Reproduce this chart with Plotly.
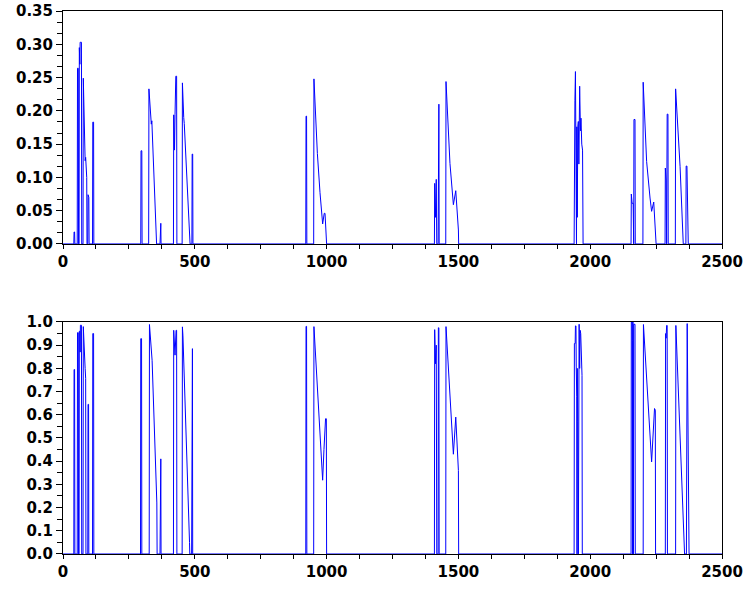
import plotly.graph_objects as go
from plotly.subplots import make_subplots

# upper trace: breakpoints (sample index, value)
top_x = [0, 41, 42, 44, 45, 54, 55, 58, 59, 61, 62, 64, 65, 70, 71,
         76, 77, 80, 84, 86, 90, 91, 94, 95, 98, 99, 112, 113, 116, 117,
         295, 296, 299, 300, 325, 326, 333, 335, 337, 355,
         368, 369, 371, 372, 419, 420, 423, 425, 428, 431, 432,
         452, 453, 458, 460, 482, 489, 490, 492, 493,
         921, 922, 924, 925, 951, 952, 965, 975, 985, 991, 994, 1000,
         1409, 1410, 1413, 1416, 1418, 1423, 1424, 1426, 1427,
         1452, 1453, 1468, 1481, 1490, 1500, 1501,
         1939, 1940, 1942, 1944, 1946, 1948, 1949, 1951, 1953, 1955, 1957,
         1960, 1963, 1965, 1968, 1971, 1973,
         2155, 2156, 2159, 2163, 2165, 2166, 2170, 2171,
         2200, 2201, 2214, 2227, 2233, 2241, 2250,
         2284, 2285, 2288, 2290, 2292, 2295, 2296,
         2323, 2324, 2341, 2353, 2363, 2364, 2367, 2372, 2500]
top_y = [0, 0, 0.018, 0.018, 0, 0, 0.264, 0.264, 0, 0, 0.295, 0.27, 0.303, 0.303, 0,
         0, 0.249, 0.19, 0.125, 0.13, 0.10, 0, 0, 0.074, 0.07, 0, 0, 0.183, 0.183, 0,
         0, 0.140, 0.140, 0, 0, 0.233, 0.19, 0.18, 0.185, 0,
         0, 0.031, 0.031, 0, 0, 0.194, 0.141, 0.194, 0.252, 0.252, 0,
         0, 0.242, 0.19, 0.181, 0, 0, 0.135, 0.135, 0,
         0, 0.192, 0.192, 0, 0, 0.248, 0.136, 0.077, 0.030, 0.046, 0.046, 0,
         0, 0.091, 0.04, 0.097, 0, 0, 0.210, 0.210, 0,
         0, 0.244, 0.121, 0.059, 0.080, 0.021, 0,
         0, 0.216, 0.216, 0.259, 0.10, 0, 0.176, 0.04, 0.176, 0.184, 0.12,
         0.237, 0.17, 0.189, 0.15, 0.141, 0,
         0, 0.075, 0.061, 0.061, 0, 0.187, 0.187, 0,
         0, 0.243, 0.124, 0.069, 0.049, 0.063, 0,
         0, 0.114, 0.096, 0, 0.195, 0.195, 0,
         0, 0.233, 0.116, 0, 0, 0.117, 0.117, 0, 0]

# lower trace
bot_x = [0, 41, 42, 44, 45, 54, 55, 58, 59, 61, 62, 64, 65, 66, 70, 71,
         76, 77, 84, 86, 87, 94, 95, 97, 98, 112, 113, 116, 117,
         294, 295, 298, 299, 327, 328, 338, 356, 357,
         368, 369, 371, 372, 419, 420, 425, 429, 431, 432,
         452, 453, 455, 480, 481, 488, 489, 491, 492,
         921, 922, 924, 925, 951, 952, 985, 990, 996, 999, 1000,
         1409, 1410, 1413, 1416, 1418, 1423, 1424, 1426, 1427,
         1452, 1453, 1481, 1490, 1500, 1501,
         1939, 1940, 1943, 1944, 1946, 1947, 1949, 1950, 1951, 1953, 1955,
         1956, 1958, 1960, 1962, 1964, 1969, 1970,
         2155, 2156, 2159, 2160, 2161, 2162, 2164, 2165, 2170, 2171,
         2201, 2202, 2233, 2239, 2244, 2247, 2248,
         2285, 2286, 2288, 2290, 2292, 2293,
         2324, 2325, 2357, 2358, 2365, 2366, 2368, 2375, 2500]
bot_y = [0, 0, 0.795, 0.795, 0, 0, 0.954, 0.954, 0, 0, 0.96, 0.96, 0.87, 0.986, 0.986, 0,
         0, 0.98, 0.80, 0.757, 0, 0, 0.645, 0.645, 0, 0, 0.95, 0.95, 0,
         0, 0.928, 0.928, 0, 0, 0.989, 0.835, 0.22, 0,
         0, 0.41, 0.41, 0, 0, 0.964, 0.857, 0.964, 0.964, 0,
         0, 0.979, 0.94, 0.05, 0, 0, 0.885, 0.885, 0,
         0, 0.981, 0.981, 0, 0, 0.98, 0.318, 0.45, 0.583, 0.583, 0,
         0, 0.967, 0.82, 0.9, 0, 0, 0.975, 0.975, 0,
         0, 0.98, 0.43, 0.59, 0.36, 0,
         0, 0.907, 0.907, 0.983, 0.983, 0.81, 0.68, 0, 0.8, 0.57, 0,
         0.99, 0.99, 0.8, 0.964, 0.95, 0.77, 0,
         0, 1.0, 1.0, 0.92, 0, 1.0, 0, 0.99, 0.99, 0,
         0, 0.989, 0.397, 0.505, 0.627, 0.62, 0,
         0, 0.95, 0.93, 0.985, 0.985, 0,
         0, 0.985, 0.04, 0, 0, 0.993, 0.993, 0, 0]

fig = make_subplots(rows=2, cols=1, vertical_spacing=0.0)
fig.add_trace(go.Scatter(x=top_x, y=top_y, mode="lines",
                         line=dict(color="#0000ff", width=1)), row=1, col=1)
fig.add_trace(go.Scatter(x=bot_x, y=bot_y, mode="lines",
                         line=dict(color="#0000ff", width=1)), row=2, col=1)

tickfont = dict(family="DejaVu Sans", size=15, color="black", weight="bold")

fig.update_xaxes(range=[0, 2500], dtick=500, tick0=0, ticks="outside", ticklen=4,
                 tickcolor="black", showline=True, linecolor="black", linewidth=1,
                 mirror=True, showgrid=False, zeroline=False, tickfont=tickfont,
                 layer="below traces", automargin=False,
                 minor=dict(dtick=125, ticks="outside", ticklen=4, tickcolor="black"))

fig.update_yaxes(ticks="outside", ticklen=6, tickcolor="black", showline=True,
                 linecolor="black", linewidth=1, mirror=True, showgrid=False,
                 zeroline=False, tickfont=tickfont, automargin=False,
                 ticklabeloverflow="allow")
fig.update_yaxes(range=[0, 0.35], dtick=0.05, tick0=0, tickformat=".2f",
                 minor=dict(dtick=0.05 / 3, tick0=0, ticks="outside", ticklen=5,
                            tickcolor="black"),
                 domain=[0.571, 1.0], row=1, col=1)
fig.update_yaxes(range=[0, 1.0], dtick=0.1, tick0=0, tickformat=".1f",
                 minor=dict(dtick=0.05, tick0=0, ticks="outside", ticklen=5,
                            tickcolor="black"),
                 domain=[0.0, 0.4273], row=2, col=1)

fig.update_layout(width=746, height=591, showlegend=False,
                  margin=dict(l=63, r=24, t=11, b=37, autoexpand=False),
                  plot_bgcolor="white", paper_bgcolor="white")

# drop the default 8px body margin so the figure sits at the window corner
fig.write_html("out.html", config={"displayModeBar": False},
               post_script="document.body.style.margin='0px';")
